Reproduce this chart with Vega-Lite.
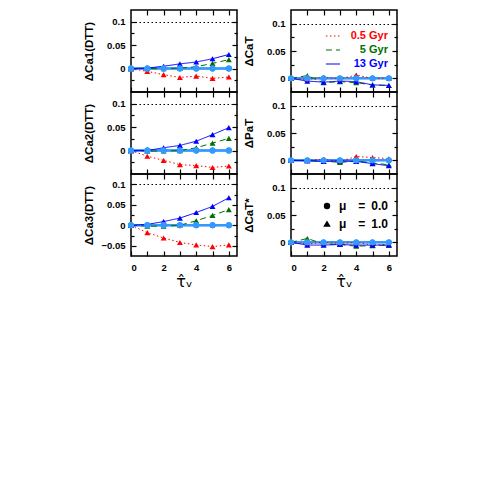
{
"$schema":"https://vega.github.io/schema/vega-lite/v6.json",
"padding":{"left":82,"top":8,"right":5,"bottom":5},
"autosize":{"type":"pad"},
"config":{
 "view":{"stroke":"black","strokeWidth":1.5},
 "axis":{"domain":false,"grid":false,"tickColor":"black","tickWidth":1.2,"labelFont":"Liberation Sans","labelFontWeight":"bold","labelFontSize":9.5,"labelColor":"black","titleFont":"Liberation Sans","titleFontWeight":"bold","titleFontSize":11.5,"titleColor":"black","gridColor":"black","gridDash":[1.5,2.5],"gridWidth":1},
 "legend":{"orient":"none","title":null,"labelFont":"Liberation Sans","labelFontWeight":"bold","labelFontSize":11,"padding":0}
},
"datasets":{"d":[
{"panel":"Ca1","age":"0.5 Gyr","mu":1,"tau":0,"d":0},{"panel":"Ca1","age":"0.5 Gyr","mu":1,"tau":1,"d":-0.006},{"panel":"Ca1","age":"0.5 Gyr","mu":1,"tau":2,"d":-0.013},{"panel":"Ca1","age":"0.5 Gyr","mu":1,"tau":3,"d":-0.019},{"panel":"Ca1","age":"0.5 Gyr","mu":1,"tau":4,"d":-0.016},{"panel":"Ca1","age":"0.5 Gyr","mu":1,"tau":5,"d":-0.021},{"panel":"Ca1","age":"0.5 Gyr","mu":1,"tau":6,"d":-0.018},
{"panel":"Ca1","age":"5 Gyr","mu":1,"tau":0,"d":0},{"panel":"Ca1","age":"5 Gyr","mu":1,"tau":1,"d":0},{"panel":"Ca1","age":"5 Gyr","mu":1,"tau":2,"d":0},{"panel":"Ca1","age":"5 Gyr","mu":1,"tau":3,"d":0.001},{"panel":"Ca1","age":"5 Gyr","mu":1,"tau":4,"d":0.004},{"panel":"Ca1","age":"5 Gyr","mu":1,"tau":5,"d":0.011},{"panel":"Ca1","age":"5 Gyr","mu":1,"tau":6,"d":0.019},
{"panel":"Ca1","age":"13 Gyr","mu":1,"tau":0,"d":0},{"panel":"Ca1","age":"13 Gyr","mu":1,"tau":1,"d":0.001},{"panel":"Ca1","age":"13 Gyr","mu":1,"tau":2,"d":0.005},{"panel":"Ca1","age":"13 Gyr","mu":1,"tau":3,"d":0.01},{"panel":"Ca1","age":"13 Gyr","mu":1,"tau":4,"d":0.014},{"panel":"Ca1","age":"13 Gyr","mu":1,"tau":5,"d":0.021},{"panel":"Ca1","age":"13 Gyr","mu":1,"tau":6,"d":0.03},
{"panel":"CaT","age":"0.5 Gyr","mu":1,"tau":0,"d":0},{"panel":"CaT","age":"0.5 Gyr","mu":1,"tau":1,"d":-0.002},{"panel":"CaT","age":"0.5 Gyr","mu":1,"tau":2,"d":0.002},{"panel":"CaT","age":"0.5 Gyr","mu":1,"tau":3,"d":-0.001},{"panel":"CaT","age":"0.5 Gyr","mu":1,"tau":4,"d":0.006},{"panel":"CaT","age":"0.5 Gyr","mu":1,"tau":5,"d":0},{"panel":"CaT","age":"0.5 Gyr","mu":1,"tau":6,"d":0},
{"panel":"CaT","age":"5 Gyr","mu":1,"tau":0,"d":0},{"panel":"CaT","age":"5 Gyr","mu":1,"tau":1,"d":0.005},{"panel":"CaT","age":"5 Gyr","mu":1,"tau":2,"d":-0.008},{"panel":"CaT","age":"5 Gyr","mu":1,"tau":3,"d":-0.006},{"panel":"CaT","age":"5 Gyr","mu":1,"tau":4,"d":-0.008},{"panel":"CaT","age":"5 Gyr","mu":1,"tau":5,"d":-0.012},{"panel":"CaT","age":"5 Gyr","mu":1,"tau":6,"d":-0.013},
{"panel":"CaT","age":"13 Gyr","mu":1,"tau":0,"d":0},{"panel":"CaT","age":"13 Gyr","mu":1,"tau":1,"d":-0.005},{"panel":"CaT","age":"13 Gyr","mu":1,"tau":2,"d":-0.007},{"panel":"CaT","age":"13 Gyr","mu":1,"tau":3,"d":-0.005},{"panel":"CaT","age":"13 Gyr","mu":1,"tau":4,"d":-0.006},{"panel":"CaT","age":"13 Gyr","mu":1,"tau":5,"d":-0.012},{"panel":"CaT","age":"13 Gyr","mu":1,"tau":6,"d":-0.013},
{"panel":"Ca2","age":"0.5 Gyr","mu":1,"tau":0,"d":0},{"panel":"Ca2","age":"0.5 Gyr","mu":1,"tau":1,"d":-0.012},{"panel":"Ca2","age":"0.5 Gyr","mu":1,"tau":2,"d":-0.021},{"panel":"Ca2","age":"0.5 Gyr","mu":1,"tau":3,"d":-0.03},{"panel":"Ca2","age":"0.5 Gyr","mu":1,"tau":4,"d":-0.032},{"panel":"Ca2","age":"0.5 Gyr","mu":1,"tau":5,"d":-0.036},{"panel":"Ca2","age":"0.5 Gyr","mu":1,"tau":6,"d":-0.033},
{"panel":"Ca2","age":"5 Gyr","mu":1,"tau":0,"d":0},{"panel":"Ca2","age":"5 Gyr","mu":1,"tau":1,"d":-0.001},{"panel":"Ca2","age":"5 Gyr","mu":1,"tau":2,"d":-0.001},{"panel":"Ca2","age":"5 Gyr","mu":1,"tau":3,"d":0},{"panel":"Ca2","age":"5 Gyr","mu":1,"tau":4,"d":0.006},{"panel":"Ca2","age":"5 Gyr","mu":1,"tau":5,"d":0.016},{"panel":"Ca2","age":"5 Gyr","mu":1,"tau":6,"d":0.026},
{"panel":"Ca2","age":"13 Gyr","mu":1,"tau":0,"d":0},{"panel":"Ca2","age":"13 Gyr","mu":1,"tau":1,"d":0},{"panel":"Ca2","age":"13 Gyr","mu":1,"tau":2,"d":0.006},{"panel":"Ca2","age":"13 Gyr","mu":1,"tau":3,"d":0.011},{"panel":"Ca2","age":"13 Gyr","mu":1,"tau":4,"d":0.02},{"panel":"Ca2","age":"13 Gyr","mu":1,"tau":5,"d":0.034},{"panel":"Ca2","age":"13 Gyr","mu":1,"tau":6,"d":0.049},
{"panel":"PaT","age":"0.5 Gyr","mu":1,"tau":0,"d":0},{"panel":"PaT","age":"0.5 Gyr","mu":1,"tau":1,"d":0},{"panel":"PaT","age":"0.5 Gyr","mu":1,"tau":2,"d":0.002},{"panel":"PaT","age":"0.5 Gyr","mu":1,"tau":3,"d":-0.002},{"panel":"PaT","age":"0.5 Gyr","mu":1,"tau":4,"d":0.007},{"panel":"PaT","age":"0.5 Gyr","mu":1,"tau":5,"d":0.005},{"panel":"PaT","age":"0.5 Gyr","mu":1,"tau":6,"d":0.003},
{"panel":"PaT","age":"5 Gyr","mu":1,"tau":0,"d":0},{"panel":"PaT","age":"5 Gyr","mu":1,"tau":1,"d":0},{"panel":"PaT","age":"5 Gyr","mu":1,"tau":2,"d":-0.001},{"panel":"PaT","age":"5 Gyr","mu":1,"tau":3,"d":-0.004},{"panel":"PaT","age":"5 Gyr","mu":1,"tau":4,"d":-0.001},{"panel":"PaT","age":"5 Gyr","mu":1,"tau":5,"d":-0.005},{"panel":"PaT","age":"5 Gyr","mu":1,"tau":6,"d":-0.008},
{"panel":"PaT","age":"13 Gyr","mu":1,"tau":0,"d":0},{"panel":"PaT","age":"13 Gyr","mu":1,"tau":1,"d":-0.001},{"panel":"PaT","age":"13 Gyr","mu":1,"tau":2,"d":-0.002},{"panel":"PaT","age":"13 Gyr","mu":1,"tau":3,"d":-0.001},{"panel":"PaT","age":"13 Gyr","mu":1,"tau":4,"d":-0.002},{"panel":"PaT","age":"13 Gyr","mu":1,"tau":5,"d":-0.006},{"panel":"PaT","age":"13 Gyr","mu":1,"tau":6,"d":-0.01},
{"panel":"Ca3","age":"0.5 Gyr","mu":1,"tau":0,"d":0},{"panel":"Ca3","age":"0.5 Gyr","mu":1,"tau":1,"d":-0.018},{"panel":"Ca3","age":"0.5 Gyr","mu":1,"tau":2,"d":-0.031},{"panel":"Ca3","age":"0.5 Gyr","mu":1,"tau":3,"d":-0.042},{"panel":"Ca3","age":"0.5 Gyr","mu":1,"tau":4,"d":-0.048},{"panel":"Ca3","age":"0.5 Gyr","mu":1,"tau":5,"d":-0.052},{"panel":"Ca3","age":"0.5 Gyr","mu":1,"tau":6,"d":-0.048},
{"panel":"Ca3","age":"5 Gyr","mu":1,"tau":0,"d":0},{"panel":"Ca3","age":"5 Gyr","mu":1,"tau":1,"d":-0.002},{"panel":"Ca3","age":"5 Gyr","mu":1,"tau":2,"d":-0.0025},{"panel":"Ca3","age":"5 Gyr","mu":1,"tau":3,"d":0},{"panel":"Ca3","age":"5 Gyr","mu":1,"tau":4,"d":0.011},{"panel":"Ca3","age":"5 Gyr","mu":1,"tau":5,"d":0.024},{"panel":"Ca3","age":"5 Gyr","mu":1,"tau":6,"d":0.038},
{"panel":"Ca3","age":"13 Gyr","mu":1,"tau":0,"d":0},{"panel":"Ca3","age":"13 Gyr","mu":1,"tau":1,"d":0.002},{"panel":"Ca3","age":"13 Gyr","mu":1,"tau":2,"d":0.009},{"panel":"Ca3","age":"13 Gyr","mu":1,"tau":3,"d":0.0175},{"panel":"Ca3","age":"13 Gyr","mu":1,"tau":4,"d":0.031},{"panel":"Ca3","age":"13 Gyr","mu":1,"tau":5,"d":0.046},{"panel":"Ca3","age":"13 Gyr","mu":1,"tau":6,"d":0.067},
{"panel":"CaTs","age":"0.5 Gyr","mu":1,"tau":0,"d":0},{"panel":"CaTs","age":"0.5 Gyr","mu":1,"tau":1,"d":-0.003},{"panel":"CaTs","age":"0.5 Gyr","mu":1,"tau":2,"d":0},{"panel":"CaTs","age":"0.5 Gyr","mu":1,"tau":3,"d":-0.002},{"panel":"CaTs","age":"0.5 Gyr","mu":1,"tau":4,"d":0},{"panel":"CaTs","age":"0.5 Gyr","mu":1,"tau":5,"d":-0.005},{"panel":"CaTs","age":"0.5 Gyr","mu":1,"tau":6,"d":-0.004},
{"panel":"CaTs","age":"5 Gyr","mu":1,"tau":0,"d":0},{"panel":"CaTs","age":"5 Gyr","mu":1,"tau":1,"d":0.007},{"panel":"CaTs","age":"5 Gyr","mu":1,"tau":2,"d":-0.003},{"panel":"CaTs","age":"5 Gyr","mu":1,"tau":3,"d":-0.004},{"panel":"CaTs","age":"5 Gyr","mu":1,"tau":4,"d":-0.007},{"panel":"CaTs","age":"5 Gyr","mu":1,"tau":5,"d":-0.006},{"panel":"CaTs","age":"5 Gyr","mu":1,"tau":6,"d":-0.005},
{"panel":"CaTs","age":"13 Gyr","mu":1,"tau":0,"d":0},{"panel":"CaTs","age":"13 Gyr","mu":1,"tau":1,"d":-0.005},{"panel":"CaTs","age":"13 Gyr","mu":1,"tau":2,"d":-0.005},{"panel":"CaTs","age":"13 Gyr","mu":1,"tau":3,"d":-0.004},{"panel":"CaTs","age":"13 Gyr","mu":1,"tau":4,"d":-0.005},{"panel":"CaTs","age":"13 Gyr","mu":1,"tau":5,"d":-0.005},{"panel":"CaTs","age":"13 Gyr","mu":1,"tau":6,"d":-0.005},
{"panel":"Ca1","age":"0.5 Gyr","mu":0,"tau":0,"d":0},{"panel":"Ca1","age":"0.5 Gyr","mu":0,"tau":1,"d":0},{"panel":"Ca1","age":"0.5 Gyr","mu":0,"tau":2,"d":0},{"panel":"Ca1","age":"0.5 Gyr","mu":0,"tau":3,"d":0},{"panel":"Ca1","age":"0.5 Gyr","mu":0,"tau":4,"d":0},{"panel":"Ca1","age":"0.5 Gyr","mu":0,"tau":5,"d":0},{"panel":"Ca1","age":"0.5 Gyr","mu":0,"tau":6,"d":0},
{"panel":"Ca1","age":"5 Gyr","mu":0,"tau":0,"d":0},{"panel":"Ca1","age":"5 Gyr","mu":0,"tau":1,"d":0},{"panel":"Ca1","age":"5 Gyr","mu":0,"tau":2,"d":0},{"panel":"Ca1","age":"5 Gyr","mu":0,"tau":3,"d":0},{"panel":"Ca1","age":"5 Gyr","mu":0,"tau":4,"d":0},{"panel":"Ca1","age":"5 Gyr","mu":0,"tau":5,"d":0},{"panel":"Ca1","age":"5 Gyr","mu":0,"tau":6,"d":0},
{"panel":"Ca1","age":"13 Gyr","mu":0,"tau":0,"d":0},{"panel":"Ca1","age":"13 Gyr","mu":0,"tau":1,"d":0},{"panel":"Ca1","age":"13 Gyr","mu":0,"tau":2,"d":0},{"panel":"Ca1","age":"13 Gyr","mu":0,"tau":3,"d":0},{"panel":"Ca1","age":"13 Gyr","mu":0,"tau":4,"d":0},{"panel":"Ca1","age":"13 Gyr","mu":0,"tau":5,"d":0},{"panel":"Ca1","age":"13 Gyr","mu":0,"tau":6,"d":0},
{"panel":"CaT","age":"0.5 Gyr","mu":0,"tau":0,"d":0},{"panel":"CaT","age":"0.5 Gyr","mu":0,"tau":1,"d":0},{"panel":"CaT","age":"0.5 Gyr","mu":0,"tau":2,"d":0},{"panel":"CaT","age":"0.5 Gyr","mu":0,"tau":3,"d":0},{"panel":"CaT","age":"0.5 Gyr","mu":0,"tau":4,"d":0},{"panel":"CaT","age":"0.5 Gyr","mu":0,"tau":5,"d":0},{"panel":"CaT","age":"0.5 Gyr","mu":0,"tau":6,"d":0},
{"panel":"CaT","age":"5 Gyr","mu":0,"tau":0,"d":0},{"panel":"CaT","age":"5 Gyr","mu":0,"tau":1,"d":0},{"panel":"CaT","age":"5 Gyr","mu":0,"tau":2,"d":0},{"panel":"CaT","age":"5 Gyr","mu":0,"tau":3,"d":0},{"panel":"CaT","age":"5 Gyr","mu":0,"tau":4,"d":0},{"panel":"CaT","age":"5 Gyr","mu":0,"tau":5,"d":0},{"panel":"CaT","age":"5 Gyr","mu":0,"tau":6,"d":0},
{"panel":"CaT","age":"13 Gyr","mu":0,"tau":0,"d":0},{"panel":"CaT","age":"13 Gyr","mu":0,"tau":1,"d":0},{"panel":"CaT","age":"13 Gyr","mu":0,"tau":2,"d":0},{"panel":"CaT","age":"13 Gyr","mu":0,"tau":3,"d":0},{"panel":"CaT","age":"13 Gyr","mu":0,"tau":4,"d":0},{"panel":"CaT","age":"13 Gyr","mu":0,"tau":5,"d":0},{"panel":"CaT","age":"13 Gyr","mu":0,"tau":6,"d":0},
{"panel":"Ca2","age":"0.5 Gyr","mu":0,"tau":0,"d":0},{"panel":"Ca2","age":"0.5 Gyr","mu":0,"tau":1,"d":0},{"panel":"Ca2","age":"0.5 Gyr","mu":0,"tau":2,"d":0},{"panel":"Ca2","age":"0.5 Gyr","mu":0,"tau":3,"d":0},{"panel":"Ca2","age":"0.5 Gyr","mu":0,"tau":4,"d":0},{"panel":"Ca2","age":"0.5 Gyr","mu":0,"tau":5,"d":0},{"panel":"Ca2","age":"0.5 Gyr","mu":0,"tau":6,"d":0},
{"panel":"Ca2","age":"5 Gyr","mu":0,"tau":0,"d":0},{"panel":"Ca2","age":"5 Gyr","mu":0,"tau":1,"d":0},{"panel":"Ca2","age":"5 Gyr","mu":0,"tau":2,"d":0},{"panel":"Ca2","age":"5 Gyr","mu":0,"tau":3,"d":0},{"panel":"Ca2","age":"5 Gyr","mu":0,"tau":4,"d":0},{"panel":"Ca2","age":"5 Gyr","mu":0,"tau":5,"d":0},{"panel":"Ca2","age":"5 Gyr","mu":0,"tau":6,"d":0},
{"panel":"Ca2","age":"13 Gyr","mu":0,"tau":0,"d":0},{"panel":"Ca2","age":"13 Gyr","mu":0,"tau":1,"d":0},{"panel":"Ca2","age":"13 Gyr","mu":0,"tau":2,"d":0},{"panel":"Ca2","age":"13 Gyr","mu":0,"tau":3,"d":0},{"panel":"Ca2","age":"13 Gyr","mu":0,"tau":4,"d":0},{"panel":"Ca2","age":"13 Gyr","mu":0,"tau":5,"d":0},{"panel":"Ca2","age":"13 Gyr","mu":0,"tau":6,"d":0},
{"panel":"PaT","age":"0.5 Gyr","mu":0,"tau":0,"d":0},{"panel":"PaT","age":"0.5 Gyr","mu":0,"tau":1,"d":0},{"panel":"PaT","age":"0.5 Gyr","mu":0,"tau":2,"d":0},{"panel":"PaT","age":"0.5 Gyr","mu":0,"tau":3,"d":0},{"panel":"PaT","age":"0.5 Gyr","mu":0,"tau":4,"d":0},{"panel":"PaT","age":"0.5 Gyr","mu":0,"tau":5,"d":0},{"panel":"PaT","age":"0.5 Gyr","mu":0,"tau":6,"d":0},
{"panel":"PaT","age":"5 Gyr","mu":0,"tau":0,"d":0},{"panel":"PaT","age":"5 Gyr","mu":0,"tau":1,"d":0},{"panel":"PaT","age":"5 Gyr","mu":0,"tau":2,"d":0},{"panel":"PaT","age":"5 Gyr","mu":0,"tau":3,"d":0},{"panel":"PaT","age":"5 Gyr","mu":0,"tau":4,"d":0},{"panel":"PaT","age":"5 Gyr","mu":0,"tau":5,"d":0},{"panel":"PaT","age":"5 Gyr","mu":0,"tau":6,"d":0},
{"panel":"PaT","age":"13 Gyr","mu":0,"tau":0,"d":0},{"panel":"PaT","age":"13 Gyr","mu":0,"tau":1,"d":0},{"panel":"PaT","age":"13 Gyr","mu":0,"tau":2,"d":0},{"panel":"PaT","age":"13 Gyr","mu":0,"tau":3,"d":0},{"panel":"PaT","age":"13 Gyr","mu":0,"tau":4,"d":0},{"panel":"PaT","age":"13 Gyr","mu":0,"tau":5,"d":0},{"panel":"PaT","age":"13 Gyr","mu":0,"tau":6,"d":0},
{"panel":"Ca3","age":"0.5 Gyr","mu":0,"tau":0,"d":0},{"panel":"Ca3","age":"0.5 Gyr","mu":0,"tau":1,"d":0},{"panel":"Ca3","age":"0.5 Gyr","mu":0,"tau":2,"d":0},{"panel":"Ca3","age":"0.5 Gyr","mu":0,"tau":3,"d":0},{"panel":"Ca3","age":"0.5 Gyr","mu":0,"tau":4,"d":0},{"panel":"Ca3","age":"0.5 Gyr","mu":0,"tau":5,"d":0},{"panel":"Ca3","age":"0.5 Gyr","mu":0,"tau":6,"d":0},
{"panel":"Ca3","age":"5 Gyr","mu":0,"tau":0,"d":0},{"panel":"Ca3","age":"5 Gyr","mu":0,"tau":1,"d":0},{"panel":"Ca3","age":"5 Gyr","mu":0,"tau":2,"d":0},{"panel":"Ca3","age":"5 Gyr","mu":0,"tau":3,"d":0},{"panel":"Ca3","age":"5 Gyr","mu":0,"tau":4,"d":0},{"panel":"Ca3","age":"5 Gyr","mu":0,"tau":5,"d":0},{"panel":"Ca3","age":"5 Gyr","mu":0,"tau":6,"d":0},
{"panel":"Ca3","age":"13 Gyr","mu":0,"tau":0,"d":0},{"panel":"Ca3","age":"13 Gyr","mu":0,"tau":1,"d":0},{"panel":"Ca3","age":"13 Gyr","mu":0,"tau":2,"d":0},{"panel":"Ca3","age":"13 Gyr","mu":0,"tau":3,"d":0},{"panel":"Ca3","age":"13 Gyr","mu":0,"tau":4,"d":0},{"panel":"Ca3","age":"13 Gyr","mu":0,"tau":5,"d":0},{"panel":"Ca3","age":"13 Gyr","mu":0,"tau":6,"d":0},
{"panel":"CaTs","age":"0.5 Gyr","mu":0,"tau":0,"d":0},{"panel":"CaTs","age":"0.5 Gyr","mu":0,"tau":1,"d":0},{"panel":"CaTs","age":"0.5 Gyr","mu":0,"tau":2,"d":0},{"panel":"CaTs","age":"0.5 Gyr","mu":0,"tau":3,"d":0},{"panel":"CaTs","age":"0.5 Gyr","mu":0,"tau":4,"d":0},{"panel":"CaTs","age":"0.5 Gyr","mu":0,"tau":5,"d":0},{"panel":"CaTs","age":"0.5 Gyr","mu":0,"tau":6,"d":0},
{"panel":"CaTs","age":"5 Gyr","mu":0,"tau":0,"d":0},{"panel":"CaTs","age":"5 Gyr","mu":0,"tau":1,"d":0},{"panel":"CaTs","age":"5 Gyr","mu":0,"tau":2,"d":0},{"panel":"CaTs","age":"5 Gyr","mu":0,"tau":3,"d":0},{"panel":"CaTs","age":"5 Gyr","mu":0,"tau":4,"d":0},{"panel":"CaTs","age":"5 Gyr","mu":0,"tau":5,"d":0},{"panel":"CaTs","age":"5 Gyr","mu":0,"tau":6,"d":0},
{"panel":"CaTs","age":"13 Gyr","mu":0,"tau":0,"d":0},{"panel":"CaTs","age":"13 Gyr","mu":0,"tau":1,"d":0},{"panel":"CaTs","age":"13 Gyr","mu":0,"tau":2,"d":0},{"panel":"CaTs","age":"13 Gyr","mu":0,"tau":3,"d":0},{"panel":"CaTs","age":"13 Gyr","mu":0,"tau":4,"d":0},{"panel":"CaTs","age":"13 Gyr","mu":0,"tau":5,"d":0},{"panel":"CaTs","age":"13 Gyr","mu":0,"tau":6,"d":0}
]},
"columns":2,
"bounds":"flush",
"spacing":{"row":0,"column":54},
"concat":[
{"width":106,"height":82,"data":{"name":"d"},"transform":[{"filter":"datum.panel == 'Ca1'"}],
 "layer":[
 {"transform":[{"filter":"datum.mu == 0"}],"mark":{"type":"line","color":"#3399ff","strokeWidth":2},"encoding":{
  "x":{"field":"tau","type":"quantitative","scale":{"domain":[0,6.5],"nice":false},"axis":{"orient":"bottom","values":[0,1,2,3,4,5,6],"labels":false,"title":null,"tickSize":-5}},
  "y":{"field":"d","type":"quantitative","scale":{"domain":[-0.05,0.125],"nice":false,"zero":false},"axis":{"orient":"left","values":[-0.025,0,0.025,0.05,0.075,0.1],"labelExpr":"abs(datum.value*20-round(datum.value*20))<0.001 ? format(datum.value,'~g') : ''","tickSize":{"condition":{"test":"abs(datum.value*20-round(datum.value*20))<0.001","value":-5},"value":-3},"labelPadding":11,"title":"ΔCa1(DTT)","titleX":-37,"titleBaseline":"bottom","grid":true,"gridOpacity":{"condition":{"test":"abs(datum.value-0.1)<0.0001","value":1},"value":0}}},
  "detail":{"field":"age"}}},
 {"transform":[{"filter":"datum.mu == 1"}],"mark":{"type":"line","strokeWidth":1},"encoding":{
  "x":{"field":"tau","type":"quantitative","axis":null},
  "y":{"field":"d","type":"quantitative","axis":null},
  "color":{"field":"age","type":"nominal","scale":{"domain":["0.5 Gyr","5 Gyr","13 Gyr"],"range":["#ff0000","#007000","#0000ff"]},"legend":{"legendX":194,"legendY":18,"symbolType":"stroke","symbolSize":200,"symbolStrokeWidth":1.2,"labelAlign":"right","labelOffset":47,"rowPadding":1,"encode":{"labels":{"update":{"fill":{"signal":"scale('color', datum.value)"}}}}}},
  "strokeDash":{"field":"age","type":"nominal","scale":{"domain":["0.5 Gyr","5 Gyr","13 Gyr"],"range":[[1.5,2.5],[6,4],[1,0]]},"legend":{"legendX":194,"legendY":18,"symbolType":"stroke","symbolSize":200,"symbolStrokeWidth":1.2,"labelAlign":"right","labelOffset":47,"rowPadding":1,"encode":{"labels":{"update":{"fill":{"signal":"scale('color', datum.value)"}}}}}}}},
 {"transform":[{"filter":"datum.mu == 1"}],"mark":{"type":"point","filled":true,"opacity":1,"size":35},"encoding":{
  "x":{"field":"tau","type":"quantitative","axis":{"orient":"top","values":[1,2,3,4,5,6],"labels":false,"title":null,"tickSize":-5}},
  "y":{"field":"d","type":"quantitative","axis":{"orient":"right","values":[-0.025,0,0.025,0.05,0.075,0.1],"labels":false,"title":null,"tickSize":{"condition":{"test":"abs(datum.value*20-round(datum.value*20))<0.001","value":-5},"value":-3}}},
  "color":{"field":"age","type":"nominal"},
  "shape":{"field":"mu","type":"nominal","scale":{"domain":[0,1],"range":["circle","triangle-up"]},"legend":{"legendX":190,"legendY":190,"symbolSize":24,"symbolFillColor":"black","symbolStrokeColor":"black","labelOffset":6,"labelFontSize":12,"rowPadding":6,"labelExpr":"'μ\u2003=\u2002' + (datum.value == 0 ? '0.0' : '1.0')"}}}},
 {"transform":[{"filter":"datum.mu == 0"}],"mark":{"type":"point","filled":true,"opacity":1,"size":35,"shape":"circle","color":"#3399ff"},"encoding":{
  "x":{"field":"tau","type":"quantitative","axis":null},
  "y":{"field":"d","type":"quantitative","axis":null}}}
 ],
 "resolve":{"axis":{"x":"independent","y":"independent"}}},
{"width":106,"height":82,"data":{"name":"d"},"transform":[{"filter":"datum.panel == 'CaT'"}],
 "layer":[
 {"transform":[{"filter":"datum.mu == 0"}],"mark":{"type":"line","color":"#3399ff","strokeWidth":2},"encoding":{
  "x":{"field":"tau","type":"quantitative","scale":{"domain":[0,6.5],"nice":false},"axis":{"orient":"bottom","values":[0,1,2,3,4,5,6],"labels":false,"title":null,"tickSize":-5}},
  "y":{"field":"d","type":"quantitative","scale":{"domain":[-0.025,0.125],"nice":false,"zero":false},"axis":{"orient":"left","values":[0,0.025,0.05,0.075,0.1],"labelExpr":"abs(datum.value*20-round(datum.value*20))<0.001 ? format(datum.value,'~g') : ''","tickSize":{"condition":{"test":"abs(datum.value*20-round(datum.value*20))<0.001","value":-5},"value":-3},"labelPadding":11,"title":"ΔCaT","titleX":-37,"titleBaseline":"bottom","grid":true,"gridOpacity":{"condition":{"test":"abs(datum.value-0.1)<0.0001","value":1},"value":0}}},
  "detail":{"field":"age"}}},
 {"transform":[{"filter":"datum.mu == 1"}],"mark":{"type":"line","strokeWidth":1},"encoding":{
  "x":{"field":"tau","type":"quantitative","axis":null},
  "y":{"field":"d","type":"quantitative","axis":null},
  "color":{"field":"age","type":"nominal"},
  "strokeDash":{"field":"age","type":"nominal"}}},
 {"transform":[{"filter":"datum.mu == 1"}],"mark":{"type":"point","filled":true,"opacity":1,"size":35},"encoding":{
  "x":{"field":"tau","type":"quantitative","axis":{"orient":"top","values":[1,2,3,4,5,6],"labels":false,"title":null,"tickSize":-5}},
  "y":{"field":"d","type":"quantitative","axis":{"orient":"right","values":[0,0.025,0.05,0.075,0.1],"labels":false,"title":null,"tickSize":{"condition":{"test":"abs(datum.value*20-round(datum.value*20))<0.001","value":-5},"value":-3}}},
  "color":{"field":"age","type":"nominal"},
  "shape":{"field":"mu","type":"nominal"}}},
 {"transform":[{"filter":"datum.mu == 0"}],"mark":{"type":"point","filled":true,"opacity":1,"size":35,"shape":"circle","color":"#3399ff"},"encoding":{
  "x":{"field":"tau","type":"quantitative","axis":null},
  "y":{"field":"d","type":"quantitative","axis":null}}}
 ],
 "resolve":{"axis":{"x":"independent","y":"independent"}}},
{"width":106,"height":82,"data":{"name":"d"},"transform":[{"filter":"datum.panel == 'Ca2'"}],
 "layer":[
 {"transform":[{"filter":"datum.mu == 0"}],"mark":{"type":"line","color":"#3399ff","strokeWidth":2},"encoding":{
  "x":{"field":"tau","type":"quantitative","scale":{"domain":[0,6.5],"nice":false},"axis":{"orient":"bottom","values":[0,1,2,3,4,5,6],"labels":false,"title":null,"tickSize":-5}},
  "y":{"field":"d","type":"quantitative","scale":{"domain":[-0.05,0.125],"nice":false,"zero":false},"axis":{"orient":"left","values":[-0.025,0,0.025,0.05,0.075,0.1],"labelExpr":"abs(datum.value*20-round(datum.value*20))<0.001 ? format(datum.value,'~g') : ''","tickSize":{"condition":{"test":"abs(datum.value*20-round(datum.value*20))<0.001","value":-5},"value":-3},"labelPadding":11,"title":"ΔCa2(DTT)","titleX":-37,"titleBaseline":"bottom","grid":true,"gridOpacity":{"condition":{"test":"abs(datum.value-0.1)<0.0001","value":1},"value":0}}},
  "detail":{"field":"age"}}},
 {"transform":[{"filter":"datum.mu == 1"}],"mark":{"type":"line","strokeWidth":1},"encoding":{
  "x":{"field":"tau","type":"quantitative","axis":null},
  "y":{"field":"d","type":"quantitative","axis":null},
  "color":{"field":"age","type":"nominal"},
  "strokeDash":{"field":"age","type":"nominal"}}},
 {"transform":[{"filter":"datum.mu == 1"}],"mark":{"type":"point","filled":true,"opacity":1,"size":35},"encoding":{
  "x":{"field":"tau","type":"quantitative","axis":{"orient":"top","values":[1,2,3,4,5,6],"labels":false,"title":null,"tickSize":-5}},
  "y":{"field":"d","type":"quantitative","axis":{"orient":"right","values":[-0.025,0,0.025,0.05,0.075,0.1],"labels":false,"title":null,"tickSize":{"condition":{"test":"abs(datum.value*20-round(datum.value*20))<0.001","value":-5},"value":-3}}},
  "color":{"field":"age","type":"nominal"},
  "shape":{"field":"mu","type":"nominal"}}},
 {"transform":[{"filter":"datum.mu == 0"}],"mark":{"type":"point","filled":true,"opacity":1,"size":35,"shape":"circle","color":"#3399ff"},"encoding":{
  "x":{"field":"tau","type":"quantitative","axis":null},
  "y":{"field":"d","type":"quantitative","axis":null}}}
 ],
 "resolve":{"axis":{"x":"independent","y":"independent"}}},
{"width":106,"height":82,"data":{"name":"d"},"transform":[{"filter":"datum.panel == 'PaT'"}],
 "layer":[
 {"transform":[{"filter":"datum.mu == 0"}],"mark":{"type":"line","color":"#3399ff","strokeWidth":2},"encoding":{
  "x":{"field":"tau","type":"quantitative","scale":{"domain":[0,6.5],"nice":false},"axis":{"orient":"bottom","values":[0,1,2,3,4,5,6],"labels":false,"title":null,"tickSize":-5}},
  "y":{"field":"d","type":"quantitative","scale":{"domain":[-0.025,0.125],"nice":false,"zero":false},"axis":{"orient":"left","values":[0,0.025,0.05,0.075,0.1],"labelExpr":"abs(datum.value*20-round(datum.value*20))<0.001 ? format(datum.value,'~g') : ''","tickSize":{"condition":{"test":"abs(datum.value*20-round(datum.value*20))<0.001","value":-5},"value":-3},"labelPadding":11,"title":"ΔPaT","titleX":-37,"titleBaseline":"bottom","grid":true,"gridOpacity":{"condition":{"test":"abs(datum.value-0.1)<0.0001","value":1},"value":0}}},
  "detail":{"field":"age"}}},
 {"transform":[{"filter":"datum.mu == 1"}],"mark":{"type":"line","strokeWidth":1},"encoding":{
  "x":{"field":"tau","type":"quantitative","axis":null},
  "y":{"field":"d","type":"quantitative","axis":null},
  "color":{"field":"age","type":"nominal"},
  "strokeDash":{"field":"age","type":"nominal"}}},
 {"transform":[{"filter":"datum.mu == 1"}],"mark":{"type":"point","filled":true,"opacity":1,"size":35},"encoding":{
  "x":{"field":"tau","type":"quantitative","axis":{"orient":"top","values":[1,2,3,4,5,6],"labels":false,"title":null,"tickSize":-5}},
  "y":{"field":"d","type":"quantitative","axis":{"orient":"right","values":[0,0.025,0.05,0.075,0.1],"labels":false,"title":null,"tickSize":{"condition":{"test":"abs(datum.value*20-round(datum.value*20))<0.001","value":-5},"value":-3}}},
  "color":{"field":"age","type":"nominal"},
  "shape":{"field":"mu","type":"nominal"}}},
 {"transform":[{"filter":"datum.mu == 0"}],"mark":{"type":"point","filled":true,"opacity":1,"size":35,"shape":"circle","color":"#3399ff"},"encoding":{
  "x":{"field":"tau","type":"quantitative","axis":null},
  "y":{"field":"d","type":"quantitative","axis":null}}}
 ],
 "resolve":{"axis":{"x":"independent","y":"independent"}}},
{"width":106,"height":82,"data":{"name":"d"},"transform":[{"filter":"datum.panel == 'Ca3'"}],
 "layer":[
 {"transform":[{"filter":"datum.mu == 0"}],"mark":{"type":"line","color":"#3399ff","strokeWidth":2},"encoding":{
  "x":{"field":"tau","type":"quantitative","scale":{"domain":[0,6.5],"nice":false},"axis":{"orient":"bottom","values":[0,1,2,3,4,5,6],"labelExpr":"datum.value % 2 == 0 ? datum.label : ''","tickSize":-5,"labelPadding":11,"title":"τ̂ᵥ","titleFont":"DejaVu Sans","titleFontSize":16,"titleFontWeight":"normal","titlePadding":2}},
  "y":{"field":"d","type":"quantitative","scale":{"domain":[-0.075,0.125],"nice":false,"zero":false},"axis":{"orient":"left","values":[-0.05,-0.025,0,0.025,0.05,0.075,0.1],"labelExpr":"abs(datum.value*20-round(datum.value*20))<0.001 ? format(datum.value,'~g') : ''","tickSize":{"condition":{"test":"abs(datum.value*20-round(datum.value*20))<0.001","value":-5},"value":-3},"labelPadding":11,"title":"ΔCa3(DTT)","titleX":-37,"titleBaseline":"bottom","grid":true,"gridOpacity":{"condition":{"test":"abs(datum.value-0.1)<0.0001","value":1},"value":0}}},
  "detail":{"field":"age"}}},
 {"transform":[{"filter":"datum.mu == 1"}],"mark":{"type":"line","strokeWidth":1},"encoding":{
  "x":{"field":"tau","type":"quantitative","axis":null},
  "y":{"field":"d","type":"quantitative","axis":null},
  "color":{"field":"age","type":"nominal"},
  "strokeDash":{"field":"age","type":"nominal"}}},
 {"transform":[{"filter":"datum.mu == 1"}],"mark":{"type":"point","filled":true,"opacity":1,"size":35},"encoding":{
  "x":{"field":"tau","type":"quantitative","axis":{"orient":"top","values":[1,2,3,4,5,6],"labels":false,"title":null,"tickSize":-5}},
  "y":{"field":"d","type":"quantitative","axis":{"orient":"right","values":[-0.05,-0.025,0,0.025,0.05,0.075,0.1],"labels":false,"title":null,"tickSize":{"condition":{"test":"abs(datum.value*20-round(datum.value*20))<0.001","value":-5},"value":-3}}},
  "color":{"field":"age","type":"nominal"},
  "shape":{"field":"mu","type":"nominal"}}},
 {"transform":[{"filter":"datum.mu == 0"}],"mark":{"type":"point","filled":true,"opacity":1,"size":35,"shape":"circle","color":"#3399ff"},"encoding":{
  "x":{"field":"tau","type":"quantitative","axis":null},
  "y":{"field":"d","type":"quantitative","axis":null}}}
 ],
 "resolve":{"axis":{"x":"independent","y":"independent"}}},
{"width":106,"height":82,"data":{"name":"d"},"transform":[{"filter":"datum.panel == 'CaTs'"}],
 "layer":[
 {"transform":[{"filter":"datum.mu == 0"}],"mark":{"type":"line","color":"#3399ff","strokeWidth":2},"encoding":{
  "x":{"field":"tau","type":"quantitative","scale":{"domain":[0,6.5],"nice":false},"axis":{"orient":"bottom","values":[0,1,2,3,4,5,6],"labelExpr":"datum.value % 2 == 0 ? datum.label : ''","tickSize":-5,"labelPadding":11,"title":"τ̂ᵥ","titleFont":"DejaVu Sans","titleFontSize":16,"titleFontWeight":"normal","titlePadding":2}},
  "y":{"field":"d","type":"quantitative","scale":{"domain":[-0.025,0.125],"nice":false,"zero":false},"axis":{"orient":"left","values":[0,0.025,0.05,0.075,0.1],"labelExpr":"abs(datum.value*20-round(datum.value*20))<0.001 ? format(datum.value,'~g') : ''","tickSize":{"condition":{"test":"abs(datum.value*20-round(datum.value*20))<0.001","value":-5},"value":-3},"labelPadding":11,"title":"ΔCaT*","titleX":-37,"titleBaseline":"bottom","grid":true,"gridOpacity":{"condition":{"test":"abs(datum.value-0.1)<0.0001","value":1},"value":0}}},
  "detail":{"field":"age"}}},
 {"transform":[{"filter":"datum.mu == 1"}],"mark":{"type":"line","strokeWidth":1},"encoding":{
  "x":{"field":"tau","type":"quantitative","axis":null},
  "y":{"field":"d","type":"quantitative","axis":null},
  "color":{"field":"age","type":"nominal"},
  "strokeDash":{"field":"age","type":"nominal"}}},
 {"transform":[{"filter":"datum.mu == 1"}],"mark":{"type":"point","filled":true,"opacity":1,"size":35},"encoding":{
  "x":{"field":"tau","type":"quantitative","axis":{"orient":"top","values":[1,2,3,4,5,6],"labels":false,"title":null,"tickSize":-5}},
  "y":{"field":"d","type":"quantitative","axis":{"orient":"right","values":[0,0.025,0.05,0.075,0.1],"labels":false,"title":null,"tickSize":{"condition":{"test":"abs(datum.value*20-round(datum.value*20))<0.001","value":-5},"value":-3}}},
  "color":{"field":"age","type":"nominal"},
  "shape":{"field":"mu","type":"nominal"}}},
 {"transform":[{"filter":"datum.mu == 0"}],"mark":{"type":"point","filled":true,"opacity":1,"size":35,"shape":"circle","color":"#3399ff"},"encoding":{
  "x":{"field":"tau","type":"quantitative","axis":null},
  "y":{"field":"d","type":"quantitative","axis":null}}}
 ],
 "resolve":{"axis":{"x":"independent","y":"independent"}}}
]
}
